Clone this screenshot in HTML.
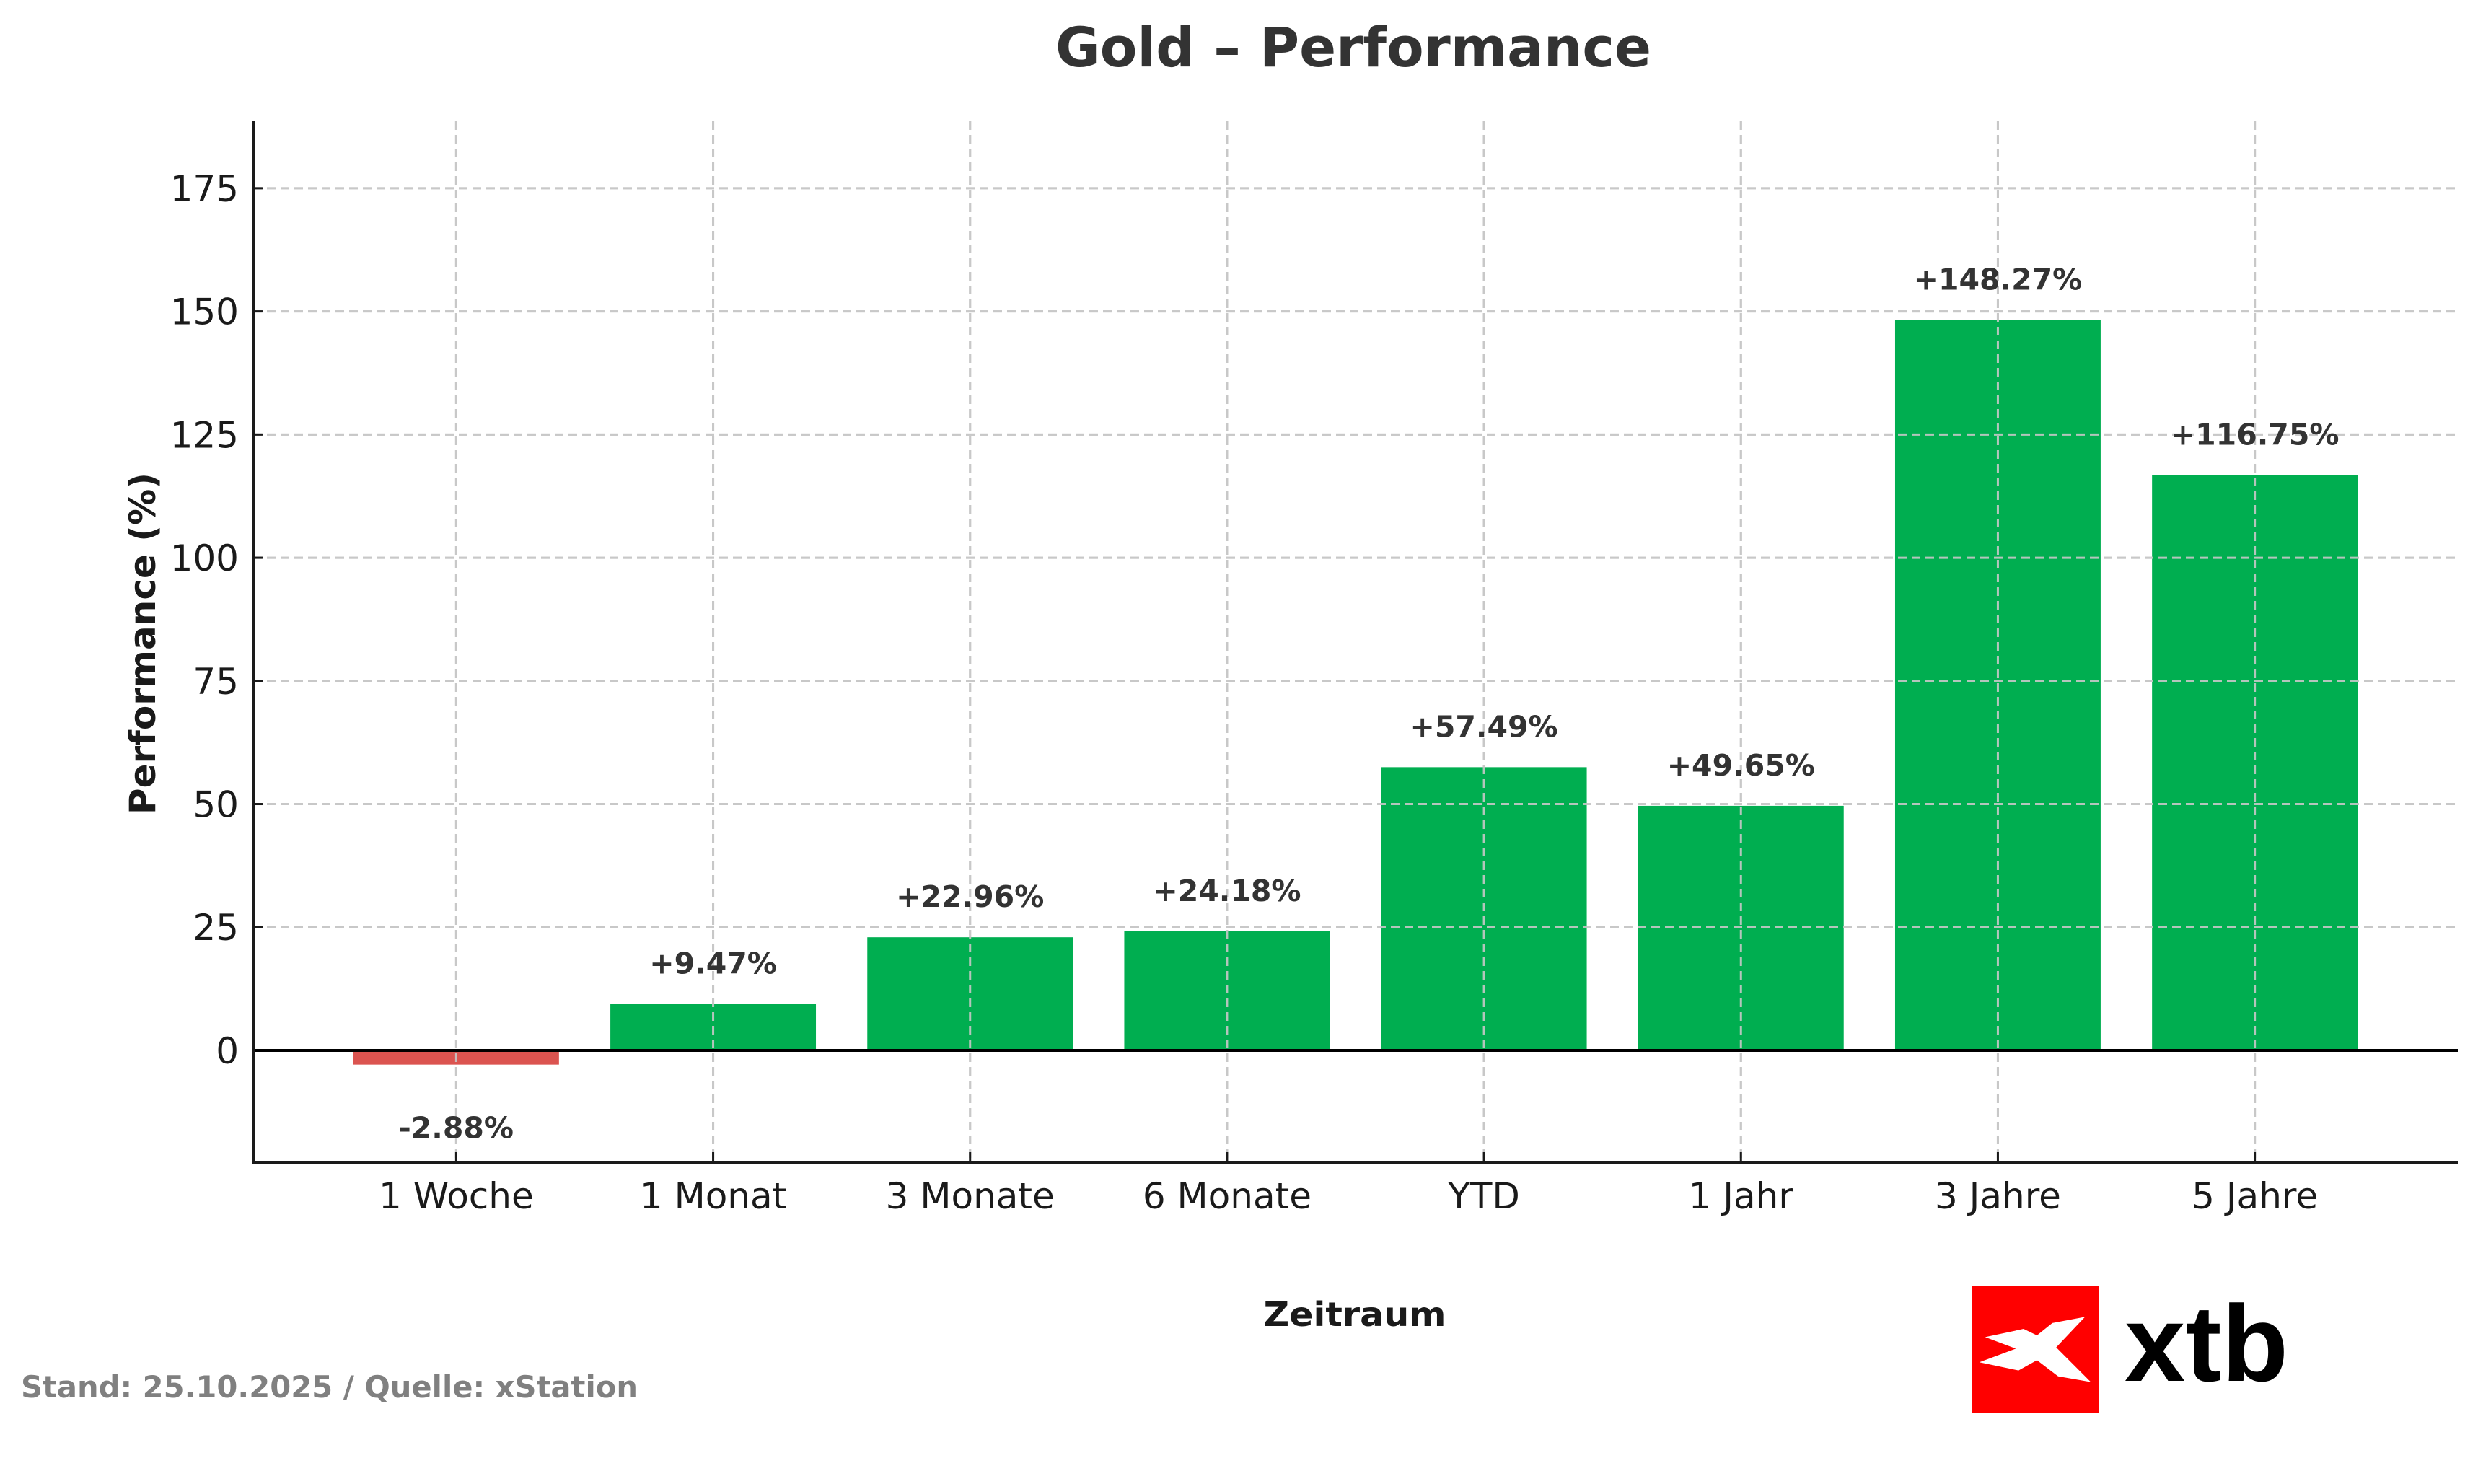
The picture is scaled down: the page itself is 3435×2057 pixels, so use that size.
<!DOCTYPE html>
<html><head><meta charset="utf-8">
<style>
html,body{margin:0;padding:0;background:#fff;}
svg{display:block;font-family:"DejaVu Sans","Liberation Sans",sans-serif;}
</style></head>
<body>
<svg id="chart" width="3435" height="2057" viewBox="0 0 3435 2057" xmlns="http://www.w3.org/2000/svg">
<rect width="3435" height="2057" fill="#fff"/>
<text x="1876" y="92" text-anchor="middle" font-size="76" font-weight="bold" fill="#333" textLength="826" lengthAdjust="spacingAndGlyphs">Gold – Performance</text>
<g id="grid"></g>
<g id="bars"></g>
<g id="axes"></g>
<g id="labels"></g>
<text transform="translate(215,892) rotate(-90)" text-anchor="middle" font-size="50" font-weight="bold" fill="#1a1a1a">Performance (%)</text>
<text x="1878" y="1838" text-anchor="middle" font-size="46" font-weight="bold" fill="#1a1a1a" textLength="253" lengthAdjust="spacingAndGlyphs">Zeitraum</text>
<text x="29" y="1937" font-size="42" font-weight="bold" fill="#808080" textLength="855" lengthAdjust="spacingAndGlyphs">Stand: 25.10.2025 / Quelle: xStation</text>
<g>
<rect x="2733" y="1783" width="176" height="175" fill="#ff0000"/>
<polygon fill="#fff" transform="translate(2600,1500) scale(0.5325,0.3552)" points="285,995 385,963 420,988 460,940 545,916 470,1035 560,1170 475,1148 420,1085 372,1125 270,1093 365,1040"/>
<text x="2945" y="1914" font-family="Liberation Sans, sans-serif" font-size="150" font-weight="bold" fill="#000" textLength="227" lengthAdjust="spacingAndGlyphs">xtb</text>
</g>
</svg>
<script>
const categories = ["1 Woche","1 Monat","3 Monate","6 Monate","YTD","1 Jahr","3 Jahre","5 Jahre"];
const values = [-2.88, 9.47, 22.96, 24.18, 57.49, 49.65, 148.27, 116.75];
const yTicks = [0, 25, 50, 75, 100, 125, 150, 175];

const NS = "http://www.w3.org/2000/svg";
const L = 351, R = 3407, T = 168, B = 1611;
const xMin = -0.79, xMax = categories.length - 1 + 0.79;
const yMin = -22.7, yMax = 188.6;
function xs(i){ return L + (i - xMin) / (xMax - xMin) * (R - L); }
function ys(v){ return B - (v - yMin) / (yMax - yMin) * (B - T); }
function mk(tag, attrs, parent){ const e = document.createElementNS(NS, tag); for (const k in attrs) e.setAttribute(k, attrs[k]); parent.appendChild(e); return e; }

const grid = document.getElementById("grid"), bars = document.getElementById("bars"), axes = document.getElementById("axes"), labels = document.getElementById("labels");
const step = xs(1) - xs(0), bw = step * 0.8;

values.forEach((v, i) => {
  const y0 = ys(0), y1 = ys(v);
  const r = mk("rect", {x: xs(i) - bw/2, y: Math.min(y0, y1), width: bw, height: Math.abs(y1 - y0), fill: v >= 0 ? "#00ae50" : "#db5450"}, bars);
  
  
  const t = mk("text", {x: xs(i), y: v >= 0 ? y1 - 42 : y1 + 102, "text-anchor": "middle", "font-size": 41, "font-weight": "bold", fill: "#333"}, labels);
  t.textContent = (v >= 0 ? "+" : "") + v.toFixed(2) + "%";
  
  
});

yTicks.forEach(v => {
  const g = mk("line", {x1: L, x2: R, y1: ys(v), y2: ys(v), stroke: "#c8c8c8", "stroke-width": 3, "stroke-dasharray": "12,7"}, grid);
  
  
  const tk = mk("line", {x1: L, x2: L + 14, y1: ys(v), y2: ys(v), stroke: "#1a1a1a", "stroke-width": 3}, axes);
  
  
  const t = mk("text", {x: L - 20, y: ys(v) + 18, "text-anchor": "end", "font-size": 50, fill: "#1a1a1a"}, axes);
  t.textContent = v;
  
  
});

categories.forEach((c, i) => {
  const g = mk("line", {x1: xs(i), x2: xs(i), y1: T, y2: B, stroke: "#c8c8c8", "stroke-width": 3, "stroke-dasharray": "12,7"}, grid);
  
  
  const tk = mk("line", {x1: xs(i), x2: xs(i), y1: B, y2: B - 14, stroke: "#1a1a1a", "stroke-width": 3}, axes);
  
  
  const t = mk("text", {x: xs(i), y: B + 64, "text-anchor": "middle", "font-size": 50, fill: "#1a1a1a"}, axes);
  t.textContent = c;
  
  
});

const grid2 = grid.cloneNode(true);
grid2.setAttribute('opacity', '0.9');
bars.parentNode.insertBefore(grid2, bars.nextSibling);

const zl = mk("line", {x1: L, x2: R, y1: ys(0), y2: ys(0), stroke: "#000", "stroke-width": 4}, axes);


const ya = mk("line", {x1: L, x2: L, y1: T, y2: B + 2, stroke: "#1a1a1a", "stroke-width": 4}, axes);


const xa = mk("line", {x1: L - 2, x2: R, y1: B, y2: B, stroke: "#1a1a1a", "stroke-width": 4}, axes);


</script>
</body></html>
